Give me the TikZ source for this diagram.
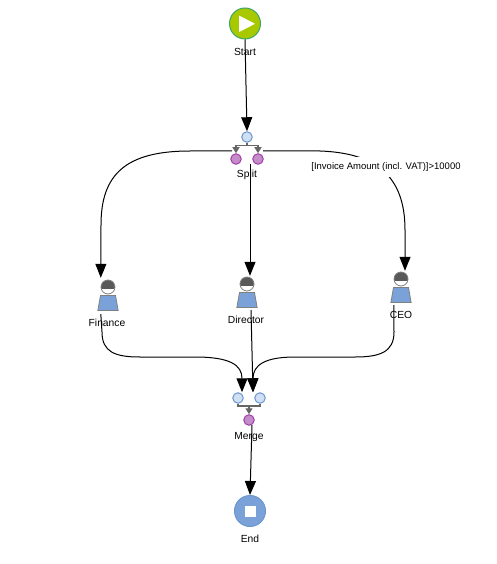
\documentclass[tikz,border=0pt]{standalone}
\usepackage{fontspec}
\setmainfont{Liberation Sans}
\usetikzlibrary{arrows.meta,shapes.geometric}
\definecolor{startgreen}{HTML}{A8C800}
\definecolor{startedge}{HTML}{3FA468}
\definecolor{portblue}{HTML}{CFE0F5}
\definecolor{bodyblue}{HTML}{7BA2D8}
\definecolor{edgeblue}{HTML}{6C96CE}
\definecolor{portpink}{HTML}{C48CC8}
\definecolor{edgepink}{HTML}{A040A8}
\begin{document}
\begin{tikzpicture}[x=1pt,y=-1pt, every node/.style={font=\fontsize{10.3}{12}\selectfont}]
  \tikzstyle{inport}=[draw=edgeblue,fill=portblue,circle,line width=1pt,minimum size=10.5pt,inner sep=0pt]
  \tikzstyle{outport}=[draw=edgepink,fill=portpink,circle,line width=1pt,minimum size=10.5pt,inner sep=0pt]
  \tikzstyle{eventstart}=[draw=startedge,fill=startgreen,circle,line width=1pt,minimum size=31pt,inner sep=0pt]
  \tikzstyle{eventend}=[draw=edgeblue,fill=bodyblue,circle,line width=1pt,minimum size=31pt,inner sep=0pt]
  \tikzstyle{persongroup}=[rectangle,minimum width=14pt,minimum height=36pt,inner sep=0pt]
  \tikzstyle{personhead}=[circle,draw=gray,line width=0.8pt,fill=white,minimum size=14pt,inner sep=0pt,path picture={\fill[black!65] (path picture bounding box.north west) rectangle ([yshift=-2pt]path picture bounding box.east);}]
  \tikzstyle{personbody}=[trapezium,trapezium left angle=80,trapezium right angle=80,draw=gray,line width=0.8pt,fill=bodyblue,minimum width=17pt,minimum height=15pt,inner sep=1pt]
  \tikzstyle{flow}=[-{Triangle[length=14pt,width=11pt]},black,line width=1pt]
  \tikzstyle{barflow}=[black!60,line width=1.2pt]
  \useasboundingbox (0,0) rectangle (497,564);
  % start and end
  \node[eventstart] (start) at (245,23.5) {};
  \fill[white] (start.center) ++(-6,-8) -- ++(16,8.3) -- ++(-16,8.3) -- cycle;
  \node (startlabel) at (245,52) {Start};
  \node[eventend] (end) at (250,511) {};
  \node[rectangle,fill=white,minimum size=11pt,inner sep=0pt] (endmark) at (250,511) {};
  \node (endlabel) at (250,539) {End};
  % split
  \node[inport] (splitin) at (247,137) {};
  \node[outport] (splitleft) at (236,159) {};
  \node[outport] (splitright) at (258,159) {};
  \node (splitlabel) at (247,175) {Split};
  \coordinate (splitbar) at (247,145.5);
  \draw[barflow] (splitin.south) -- (splitbar);
  \draw[barflow,-{Triangle[length=6pt,width=7pt]}] (splitbar) -| (splitleft.north);
  \draw[barflow,-{Triangle[length=6pt,width=7pt]}] (splitbar) -| (splitright.north);
  % people
  \node[persongroup] (finance) at (108,296) {};
  \node[personhead] (financehead) at (108,287) {};
  \node[personbody] (financebody) at (108,303) {};
  \node (financelabel) at (107,323) {Finance};
  \node[persongroup] (director) at (247,292) {};
  \node[personhead] (directorhead) at (247,284) {};
  \node[personbody] (directorbody) at (247,300) {};
  \node (directorlabel) at (246,320) {Director};
  \node[persongroup] (ceo) at (401,287) {};
  \node[personhead] (ceohead) at (401,279) {};
  \node[personbody] (ceobody) at (401,295) {};
  \node (ceolabel) at (401,315) {CEO};
  % merge
  \node[inport] (mergeleft) at (238,398) {};
  \node[inport] (mergeright) at (260,398) {};
  \node[outport] (mergeout) at (249,420) {};
  \node (mergelabel) at (249,437) {Merge};
  \coordinate (mergebar) at (249,406);
  \draw[barflow] (mergeleft.south) |- (mergebar);
  \draw[barflow] (mergeright.south) |- (mergebar);
  \draw[barflow,-{Triangle[length=6pt,width=7pt]}] (mergebar) -- (mergeout.north);
  % flows
  \coordinate (splitportl) at (232,151);
  \coordinate (splitportd) at (250,164);
  \coordinate (splitportr) at (263,151);
  \coordinate (mergeport) at (252,425);
  \draw[flow] (start.south) -- (splitin.north);
  \draw[flow] (splitportl) -- (190,151) .. controls (125,151) and (101,175) .. (101,225) -- (finance.north west);
  \draw[flow] (splitportd) -- ([xshift=3pt,yshift=-2pt]director.north);
  \draw[flow] (splitportr) -- (320,151) .. controls (375,153) and (405,175) .. (405,230) -- ([xshift=4pt,yshift=-2pt]ceo.north);
  \draw[flow] (finance.south west) -- (102,332) .. controls (102,352) and (115,357) .. (140,357) -- (195,357) .. controls (230,357) and (242,365) .. ([xshift=4pt]mergeleft.north);
  \draw[flow] ([xshift=4pt]director.south) -- ([xshift=-7pt]mergeright.north);
  \draw[flow] (ceo.south west) -- (394,332) .. controls (394,352) and (380,357) .. (355,357) -- (295,357) .. controls (265,357) and (253,365) .. ([xshift=-7pt]mergeright.north);
  \draw[flow] (mergeport) -- (end.north);
  \node[fill=white,minimum height=20pt,inner sep=0pt,font=\fontsize{9.5}{12}\selectfont] (condition) at (386,167) {[Invoice Amount (incl. VAT)]>10000};
\end{tikzpicture}
\end{document}
